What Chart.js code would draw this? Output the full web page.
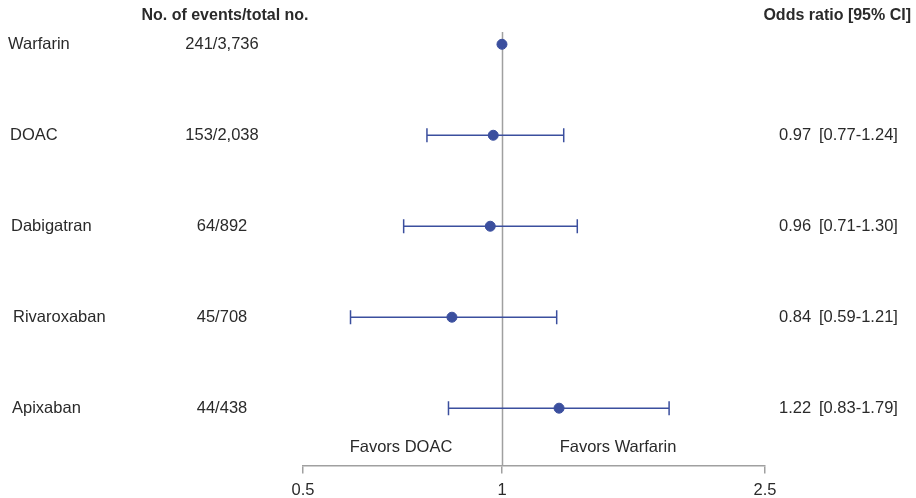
<!DOCTYPE html>
<html>
<head>
<meta charset="utf-8">
<script src="https://cdn.jsdelivr.net/npm/chart.js@4/dist/chart.umd.min.js"></script>
<style>
  html, body { margin: 0; padding: 0; background: #ffffff; }
  #wrap { width: 916px; height: 498px; position: relative; }
</style>
</head>
<body>
<div id="wrap"><canvas id="c" width="916" height="498"></canvas></div>
<script>
// ---- data ----
const groups      = ["Warfarin", "DOAC", "Dabigatran", "Rivaroxaban", "Apixaban"];
const eventsTotal = ["241/3,736", "153/2,038", "64/892", "45/708", "44/438"];
const oddsRatio   = [1, 0.97, 0.96, 0.84, 1.22];
const ciLow       = [null, 0.77, 0.71, 0.59, 0.83];
const ciHigh      = [null, 1.24, 1.30, 1.21, 1.79];
const orText      = ["", "0.97", "0.96", "0.84", "1.22"];
const ciText      = ["", "[0.77-1.24]", "[0.71-1.30]", "[0.59-1.21]", "[0.83-1.79]"];
const xTicks      = [0.5, 1, 2.5];
const refValue    = 1;
const headerCounts = "No. of events/total no.";
const headerOR     = "Odds ratio [95% CI]";
const favorLeft    = "Favors DOAC";
const favorRight   = "Favors Warfarin";

const FONT = "'Liberation Sans', Arial, sans-serif";
const MARK = "#3B4F9E";
const TEXT = "#2a2a2a";
const GREY = "#a0a0a0";

const forestPlugin = {
  id: 'forest',
  beforeDatasetsDraw(chart) {
    const ctx = chart.ctx, xs = chart.scales.x, ys = chart.scales.y, ca = chart.chartArea;
    ctx.save();
    // reference line
    const rx = Math.round(xs.getPixelForValue(refValue)) + 0.5;
    ctx.strokeStyle = GREY; ctx.lineWidth = 1.5;
    ctx.beginPath(); ctx.moveTo(rx, ca.top); ctx.lineTo(rx, ca.bottom); ctx.stroke();
    // error bars
    ctx.strokeStyle = MARK; ctx.lineWidth = 1.5;
    for (let i = 0; i < groups.length; i++) {
      if (ciLow[i] == null) continue;
      const y = ys.getPixelForValue(i);
      const x1 = xs.getPixelForValue(ciLow[i]), x2 = xs.getPixelForValue(ciHigh[i]);
      ctx.beginPath();
      ctx.moveTo(x1, y); ctx.lineTo(x2, y);
      ctx.moveTo(x1, y - 7); ctx.lineTo(x1, y + 7);
      ctx.moveTo(x2, y - 7); ctx.lineTo(x2, y + 7);
      ctx.stroke();
    }
    ctx.restore();
  },
  afterDraw(chart) {
    const ctx = chart.ctx, ys = chart.scales.y;
    ctx.save();
    ctx.fillStyle = TEXT;
    ctx.textBaseline = 'middle';
    // headers
    ctx.font = "bold 16px " + FONT;
    ctx.textAlign = 'center';
    ctx.fillText(headerCounts, 225, 16);
    ctx.textAlign = 'right';
    ctx.fillText(headerOR, 911, 16);
    // rows
    ctx.font = "16.5px " + FONT;
    const labelX = [8, 10, 11, 13, 12];
    for (let i = 0; i < groups.length; i++) {
      const y = ys.getPixelForValue(i);
      ctx.textAlign = 'left';
      ctx.fillText(groups[i], labelX[i], y);
      ctx.textAlign = 'center';
      ctx.fillText(eventsTotal[i], 222, y);
      ctx.textAlign = 'left';
      if (orText[i]) ctx.fillText(orText[i], 779, y);
      if (ciText[i]) ctx.fillText(ciText[i], 819, y);
    }
    // favors labels
    ctx.textAlign = 'center';
    ctx.fillText(favorLeft, 401, 447);
    ctx.fillText(favorRight, 618, 447);
    ctx.restore();
  }
};

new Chart(document.getElementById('c'), {
  type: 'scatter',
  data: {
    datasets: [{
      data: oddsRatio.map((v, i) => ({ x: v, y: i })),
      backgroundColor: MARK,
      borderColor: MARK,
      pointRadius: 5,
      pointHoverRadius: 5
    }]
  },
  options: {
    responsive: false,
    animation: false,
    events: [],
    layout: { padding: { left: 303, right: 151, top: 32, bottom: -10 } },
    plugins: { legend: { display: false }, tooltip: { enabled: false } },
    scales: {
      x: {
        type: 'logarithmic',
        min: 0.5, max: 2.5,
        afterBuildTicks(scale) { scale.ticks = xTicks.map(v => ({ value: v })); },
        ticks: {
          color: TEXT,
          font: { family: FONT, size: 16.5, lineHeight: 1 },
          padding: 9,
          maxRotation: 0,
          autoSkip: false,
          callback: (v) => String(v)
        },
        grid: { drawOnChartArea: false, drawTicks: true, tickLength: 8, color: GREY, lineWidth: 1.5 },
        border: { display: true, color: GREY, width: 1.5 }
      },
      y: {
        type: 'linear',
        display: false,
        reverse: true,
        min: -0.135, max: 4.63
      }
    }
  },
  plugins: [forestPlugin]
});
</script>
</body>
</html>
